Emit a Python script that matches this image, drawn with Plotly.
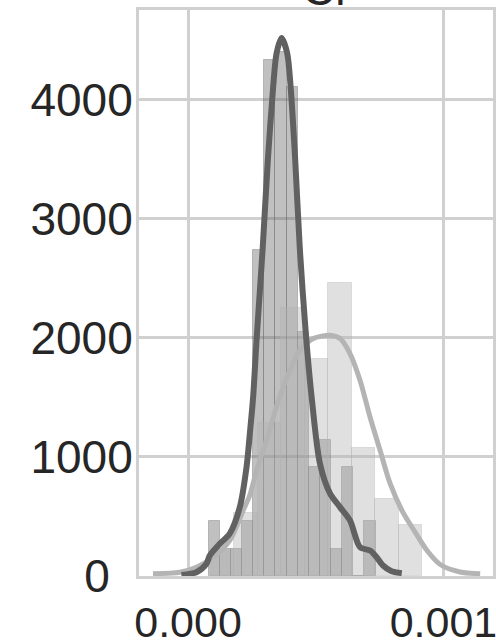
import numpy as np
import plotly.graph_objects as go

# ---- data ----
dark_bin_edges = [0.0000812, 0.0001247, 0.0001682, 0.0002118, 0.0002553, 0.0002988,
                  0.0003424, 0.0003859, 0.0004294, 0.0004729, 0.0005165, 0.0005600,
                  0.0006035, 0.0006471, 0.0006906, 0.0007341]
dark_density = [458, 229, 229, 458, 2738, 4336, 4400, 4111, 2052, 915, 1140, 229, 915, 0, 458]

light_bin_edges = [0.0000890, 0.0001812, 0.0002733, 0.0003651, 0.0004573, 0.0005490,
                   0.0006412, 0.0007333, 0.0008251, 0.0009173]
light_density = [225, 528, 1285, 2252, 1821, 2463, 1072, 643, 425]

dark_kde_x = [-0.0000259, 0.0000329, 0.0000722, 0.0000851, 0.0001243, 0.0001635, 0.0002027,
              0.0002290, 0.0002420, 0.0002549, 0.0002682, 0.0002918, 0.0003125, 0.0003333,
              0.0003467, 0.0003663, 0.0003882, 0.0004016, 0.0004196, 0.0004380, 0.0004616,
              0.0004839, 0.0005165, 0.0005557, 0.0005949, 0.0006341, 0.0006733, 0.0007125,
              0.0007361, 0.0007635, 0.0007949, 0.0008369]
dark_kde_y = [8, 32, 103, 172, 271, 357, 579, 915, 1198, 1504, 1981, 2738, 3495, 4111,
              4394, 4521, 4394, 4111, 3495, 2738, 2023, 1504, 944, 694, 579, 467, 242, 214,
              164, 88, 42, 24]

light_kde_x = [-0.0001373, -0.0000325, 0.0000329, 0.0000980, 0.0001635, 0.0002157, 0.0002420,
               0.0002682, 0.0003075, 0.0003518, 0.0003988, 0.0004380, 0.0004902, 0.0005557,
               0.0005949, 0.0006341, 0.0006733, 0.0007125, 0.0007518, 0.0007910, 0.0008416,
               0.0008925, 0.0009357, 0.0009871, 0.0010655, 0.0011439]
light_kde_y = [19, 32, 74, 158, 299, 551, 681, 885, 1140, 1459, 1728, 1897, 1995, 2023,
               1995, 1869, 1644, 1336, 1056, 778, 534, 357, 214, 97, 34, 19]

x_tick_vals = [0.0, 0.001]
x_tick_text = ["0.000", "0.001"]
y_tick_vals = [0, 1000, 2000, 3000, 4000]
y_tick_text = ["0\u2002", "1000", "2000", "3000", "4000"]
title_text = "Cl"

# ---- figure ----
de = np.array(dark_bin_edges)
le = np.array(light_bin_edges)

DARK = "rgb(97,97,97)"
LIGHT = "rgb(180,180,180)"
GRID = "#d0d0d0"
TXT = "#262626"
FONT = "Liberation Sans"

fig = go.Figure()
fig.add_trace(go.Bar(x=(de[:-1] + de[1:]) / 2, y=dark_density, width=np.diff(de),
                     marker=dict(color="rgba(97,97,97,0.4)",
                                 line=dict(color="rgba(97,97,97,0.35)", width=1)),
                     showlegend=False, hoverinfo="skip"))
fig.add_trace(go.Bar(x=(le[:-1] + le[1:]) / 2, y=light_density, width=np.diff(le),
                     marker=dict(color="rgba(178,178,178,0.4)",
                                 line=dict(color="rgba(178,178,178,0.35)", width=1)),
                     showlegend=False, hoverinfo="skip"))
fig.add_trace(go.Scatter(x=light_kde_x, y=light_kde_y, mode="lines",
                         line=dict(color=LIGHT, width=5, shape="spline", smoothing=0.8),
                         showlegend=False, hoverinfo="skip"))
fig.add_trace(go.Scatter(x=dark_kde_x, y=dark_kde_y, mode="lines",
                         line=dict(color=DARK, width=6, shape="spline", smoothing=0.8),
                         showlegend=False, hoverinfo="skip"))

fig.add_annotation(text=title_text, xref="paper", yref="paper", x=0.52, y=1 - 7 / 566,
                   xanchor="center", yanchor="bottom", showarrow=False,
                   font=dict(family=FONT, size=46, color=TXT))

fig.update_layout(
    width=496, height=642,
    margin=dict(l=139, r=3, t=10, b=66, autoexpand=False),
    paper_bgcolor="white", plot_bgcolor="white",
    barmode="overlay", bargap=0,
    font=dict(family=FONT, size=46, color=TXT),
)
fig.update_xaxes(range=[-0.000192, 0.001194], tickvals=x_tick_vals, ticktext=x_tick_text,
                 showgrid=True, gridcolor=GRID, gridwidth=3, zeroline=False,
                 showline=True, linecolor=GRID, linewidth=3, mirror=True,
                 ticks="", ticklabelstandoff=6, automargin=False,
                 ticklabeloverflow="allow", tickfont=dict(size=43))
fig.update_yaxes(range=[0, 4756], tickvals=y_tick_vals, ticktext=y_tick_text,
                 showgrid=True, gridcolor=GRID, gridwidth=3, zeroline=False,
                 showline=True, linecolor=GRID, linewidth=3, mirror=True,
                 ticks="", ticklabelstandoff=-6, automargin=False,
                 ticklabeloverflow="allow", tickfont=dict(size=46))

fig.write_html("out.html", config={"displayModeBar": False},
               post_script="document.body.style.margin='0';document.body.style.overflow='hidden';")
